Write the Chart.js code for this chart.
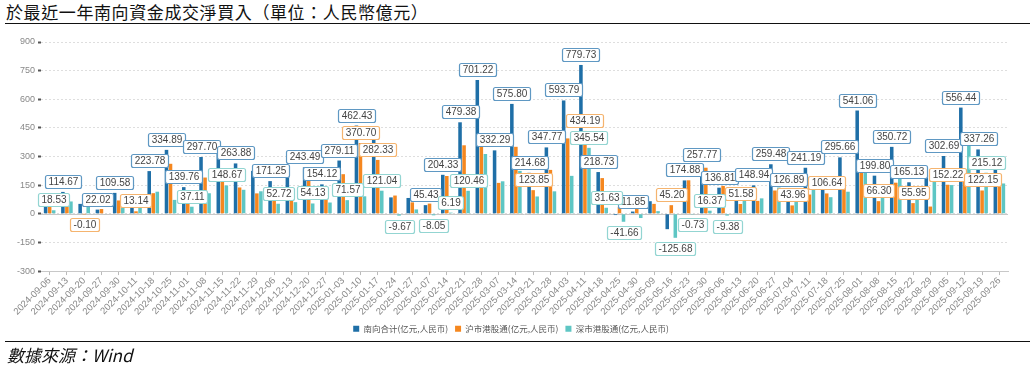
<!DOCTYPE html>
<html>
<head>
<meta charset="utf-8">
<script src="https://cdn.jsdelivr.net/npm/chart.js@4.4.1/dist/chart.umd.min.js"></script>
<style>
  body { margin: 0; background: #fff; width: 1034px; height: 373px; overflow: hidden; position: relative; font-family: "Noto Sans CJK TC", sans-serif; }
  #title { position: absolute; left: 6px; top: 1px; font-size: 17px; line-height: 22px; letter-spacing: 0.6px; color: #111; white-space: nowrap; }
  .rule { position: absolute; left: 5px; right: 4px; height: 0; border-top: 1.5px solid #111; }
  #src { position: absolute; left: 7px; top: 343px; font-size: 17px; line-height: 24px; font-style: italic; color: #111; white-space: nowrap; }
  #wrap { position: absolute; left: 0; top: 0; width: 1034px; height: 373px; }
</style>
</head>
<body>
<div id="title">於最近一年南向資金成交淨買入（單位：人民幣億元）</div>
<div class="rule" style="top:23px"></div>
<div id="wrap"><canvas id="flowChart"></canvas></div>
<div class="rule" style="top:341px"></div>
<div id="src">數據來源：Wind</div>
<script>
// weekly dates
var weeks = ['2024-09-06','2024-09-13','2024-09-20','2024-09-27','2024-09-30','2024-10-11','2024-10-18','2024-10-25',
  '2024-11-01','2024-11-08','2024-11-15','2024-11-22','2024-11-29','2024-12-06','2024-12-13','2024-12-20','2024-12-27',
  '2025-01-03','2025-01-10','2025-01-17','2025-01-24','2025-01-27','2025-02-07','2025-02-14','2025-02-21','2025-02-28',
  '2025-03-07','2025-03-14','2025-03-21','2025-03-28','2025-04-03','2025-04-11','2025-04-18','2025-04-25','2025-04-30',
  '2025-05-09','2025-05-16','2025-05-23','2025-05-30','2025-06-06','2025-06-13','2025-06-20','2025-06-27','2025-07-04',
  '2025-07-11','2025-07-18','2025-07-25','2025-08-01','2025-08-08','2025-08-15','2025-08-22','2025-08-29','2025-09-05',
  '2025-09-12','2025-09-19','2025-09-26'];

// 南向合计
var totalFlow = [58.53,114.67,52.00,22.02,109.58,44.14,223.78,334.89,139.76,297.70,330.00,263.88,225.00,171.25,199.00,243.49,
  154.12,279.11,462.43,403.37,86.00,83.00,45.43,204.33,479.38,701.22,332.29,575.80,214.68,347.77,593.79,779.73,218.73,
  -6.50,11.85,66.00,-80.48,174.88,257.77,136.81,131.58,148.94,259.48,126.89,241.19,193.64,295.66,541.06,199.80,350.72,
  165.13,205.00,302.69,556.44,337.26,300.00];
// 沪市港股通
var shFlow = [40.00,50.00,-0.10,25.00,70.00,13.14,108.00,262.00,102.65,190.00,181.33,138.00,107.00,118.53,138.00,189.36,
  95.00,207.54,370.70,282.33,95.67,60.00,53.48,198.14,358.92,388.00,162.00,351.00,123.85,230.00,395.00,434.19,187.10,
  35.16,34.00,52.00,45.20,175.61,241.40,146.19,51.58,68.00,122.00,43.96,101.00,106.64,180.00,270.00,66.30,163.00,
  55.95,38.00,152.22,175.00,122.15,141.00];
// 深市港股通
var szFlow = [18.53,64.67,52.10,-2.98,39.58,31.00,115.78,72.89,37.11,107.70,148.67,125.88,118.00,52.72,61.00,54.13,
  59.12,71.57,91.73,121.04,-9.67,23.00,-8.05,6.19,120.46,313.22,170.29,224.80,90.83,117.77,198.79,345.54,31.63,
  -41.66,-22.15,14.00,-125.68,-0.73,16.37,-9.38,80.00,80.94,137.48,82.93,140.19,87.00,115.66,271.06,133.50,187.72,
  109.18,167.00,150.47,381.44,215.12,159.00];

// which value labels are visible per week (T = 合计, O = 沪, Z = 深)
var shownLabels = ['Z','T','O','T','T','O','T','T','TZ','T','Z','T','','TZ','','TZ','T','TZ','TO','OZ','Z','','TZ','TZ',
  'TZ','T','T','T','TO','T','T','TOZ','TZ','Z','T','','OZ','TZ','TZ','TZ','O','T','T','TO','T','O','T','T','TO','T','TO',
  '','TO','T','TOZ',''];

var seriesKeys = ['T', 'O', 'Z'];
var boxColors = ['#5f98c3', '#f5b46f', '#93d5d2'];

var zeroLine = {
  id: 'zeroLine',
  beforeDatasetsDraw: function(chart) {
    var ctx = chart.ctx, area = chart.chartArea;
    var y = Math.round(chart.scales.y.getPixelForValue(0)) + 0.5;
    ctx.save();
    ctx.strokeStyle = '#c8c8c8';
    ctx.lineWidth = 1;
    ctx.beginPath();
    ctx.moveTo(area.left, y);
    ctx.lineTo(area.right, y);
    ctx.stroke();
    ctx.restore();
  }
};

var valueLabels = {
  id: 'valueLabels',
  afterDatasetsDraw: function(chart) {
    var ctx = chart.ctx;
    ctx.save();
    ctx.font = '10px "Liberation Sans", Arial, sans-serif';
    ctx.textAlign = 'center';
    ctx.textBaseline = 'middle';
    chart.data.datasets.forEach(function(ds, di) {
      var meta = chart.getDatasetMeta(di);
      meta.data.forEach(function(bar, i) {
        if (shownLabels[i].indexOf(seriesKeys[di]) < 0) return;
        var v = ds.data[i];
        var txt = v.toFixed(2);
        var w = Math.round(ctx.measureText(txt).width) + 6, h = 13;
        var x = Math.round(bar.x - w / 2) + 0.5;
        var y = v >= 0 ? Math.round(bar.y - 4 - h) + 0.5 : Math.round(bar.y + 4) + 0.5;
        ctx.beginPath();
        ctx.roundRect(x, y, w, h, 2);
        ctx.fillStyle = '#fff';
        ctx.fill();
        ctx.strokeStyle = boxColors[di];
        ctx.lineWidth = 1.2;
        ctx.stroke();
        ctx.fillStyle = '#444';
        ctx.fillText(txt, x + w / 2, y + h / 2 + 0.5);
      });
    });
    ctx.restore();
  }
};

var ctx = document.getElementById('flowChart').getContext('2d');
var flowChart = new Chart(ctx, {
  type: 'bar',
  data: {
    labels: weeks,
    datasets: [
      { label: '南向合计(亿元,人民币)', data: totalFlow, backgroundColor: '#1f6fa7' },
      { label: '沪市港股通(亿元,人民币)', data: shFlow, backgroundColor: '#f5871f' },
      { label: '深市港股通(亿元,人民币)', data: szFlow, backgroundColor: '#5ec6c4' }
    ]
  },
  options: {
    responsive: true,
    maintainAspectRatio: false,
    animation: false,
    categoryPercentage: 0.7,
    barPercentage: 0.88,
    layout: { padding: { left: 14, right: 26, top: 42, bottom: 30 } },
    plugins: {
      tooltip: { enabled: false },
      legend: {
        position: 'bottom',
        labels: {
          boxWidth: 6, boxHeight: 6, padding: 7,
          color: '#555',
          font: { size: 8.5, family: '"Noto Sans CJK SC", sans-serif' }
        }
      }
    },
    scales: {
      x: {
        grid: { drawOnChartArea: false, offset: false, tickLength: 4, color: '#bbb' },
        border: { display: true, color: '#c8c8c8' },
        ticks: {
          autoSkip: false, maxRotation: 45, minRotation: 45, padding: 0,
          color: '#888', font: { size: 9.5, family: '"Liberation Sans", Arial, sans-serif' }
        }
      },
      y: {
        min: -300, max: 900,
        border: { display: false, dash: [2, 2] },
        grid: { color: '#dedede', tickColor: '#555', tickLength: 3, tickWidth: 2 },
        ticks: {
          stepSize: 150, padding: 3,
          color: '#888', font: { size: 9, family: '"Liberation Sans", Arial, sans-serif' }
        }
      }
    }
  },
  plugins: [zeroLine, valueLabels]
});
</script>
</body>
</html>
